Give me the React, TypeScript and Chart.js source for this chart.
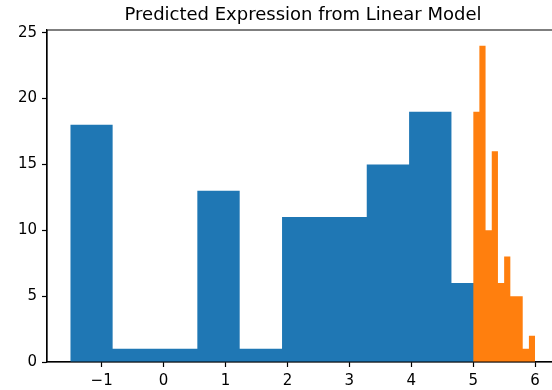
import React, { useEffect, useRef } from "react";
import { Chart, registerables } from "chart.js";

Chart.register(...registerables);

const titleText = "Predicted Expression from Linear Model";

// Blue histogram (10 bins)
const blueEdges = [-1.507, -0.823, -0.139, 0.545, 1.229, 1.913, 2.597, 3.281, 3.965, 4.649, 5.333];
const blueCounts = [18, 1, 1, 13, 1, 11, 11, 15, 19, 6];

// Orange histogram (10 bins)
const orangeEdges = [5.0, 5.1, 5.2, 5.3, 5.4, 5.5, 5.6, 5.7, 5.8, 5.9, 6.0];
const orangeCounts = [19, 24, 10, 16, 6, 8, 5, 5, 1, 2];

const xTicks = [-1, 0, 1, 2, 3, 4, 5, 6];
const yTicks = [0, 5, 10, 15, 20, 25];
const xRange = [-1.883, 6.386];
const yRange = [0, 25.2];

const BLUE = "#1f77b4";
const ORANGE = "#ff7f0e";
const FONT = "'DejaVu Sans', sans-serif";

function stepPoints(edges: number[], counts: number[]) {
  const pts = counts.map((c, i) => ({ x: edges[i], y: c }));
  pts.push({ x: edges[edges.length - 1], y: counts[counts.length - 1] });
  return pts;
}

const fmt = (v: number) => (v < 0 ? "\u2212" + Math.abs(v) : String(v));

const spinePlugin = {
  id: "spines",
  afterDatasetsDraw(chart: any) {
    const { ctx, chartArea } = chart;
    ctx.save();
    ctx.strokeStyle = "#000";
    ctx.lineWidth = 1.2;
    ctx.beginPath();
    ctx.moveTo(chartArea.left, chartArea.top);
    ctx.lineTo(chartArea.right, chartArea.top);
    ctx.moveTo(chartArea.left, chartArea.bottom);
    ctx.lineTo(chartArea.right, chartArea.bottom);
    ctx.moveTo(chartArea.left, chartArea.top);
    ctx.lineTo(chartArea.left, chartArea.bottom);
    ctx.stroke();
    ctx.restore();
  },
};

export default function App() {
  const ref = useRef<HTMLCanvasElement | null>(null);

  useEffect(() => {
    if (!ref.current) return;
    const chart = new Chart(ref.current, {
      type: "line",
      data: {
        datasets: [
          {
            label: "orange",
            data: stepPoints(orangeEdges, orangeCounts),
            stepped: true,
            fill: "origin",
            backgroundColor: ORANGE,
            borderColor: "rgba(0,0,0,0)",
            borderWidth: 0,
            pointRadius: 0,
            pointHitRadius: 0,
            order: 0,
          },
          {
            label: "blue",
            data: stepPoints(blueEdges, blueCounts),
            stepped: true,
            fill: "origin",
            backgroundColor: BLUE,
            borderColor: "rgba(0,0,0,0)",
            borderWidth: 0,
            pointRadius: 0,
            pointHitRadius: 0,
            order: 1,
          },
        ],
      },
      options: {
        responsive: false,
        maintainAspectRatio: false,
        animation: false,
        devicePixelRatio: 1,
        layout: { padding: { left: 0, right: 1, top: 0, bottom: 0 } },
        plugins: {
          legend: { display: false },
          tooltip: { enabled: false },
          title: {
            display: true,
            text: titleText,
            fullSize: false,
            color: "#000",
            font: { family: FONT, size: 18, weight: "normal", lineHeight: 1.2 },
            padding: { top: 5, bottom: 3.4 },
          },
        },
        scales: {
          x: {
            type: "linear",
            min: xRange[0],
            max: xRange[1],
            afterFit: (s: any) => {
              s.height = 28;
            },
            afterBuildTicks: (s: any) => {
              s.ticks = xTicks.map((v) => ({ value: v }));
            },
            grid: {
              drawOnChartArea: false,
              drawTicks: true,
              tickLength: 5,
              tickColor: "#000",
              tickWidth: 1.2,
            },
            border: { display: true, color: "#000", width: 1.2 },
            ticks: {
              color: "#000",
              padding: 5,
              maxRotation: 0,
              font: { family: FONT, size: 15 },
              callback: (v: any) => fmt(Number(v)),
            },
          },
          y: {
            type: "linear",
            min: yRange[0],
            max: yRange[1],
            afterFit: (s: any) => {
              s.width = 47;
            },
            afterBuildTicks: (s: any) => {
              s.ticks = yTicks.map((v) => ({ value: v }));
            },
            grid: {
              drawOnChartArea: false,
              drawTicks: true,
              tickLength: 5,
              tickColor: "#000",
              tickWidth: 1.2,
            },
            border: { display: true, color: "#000", width: 1.2 },
            ticks: {
              color: "#000",
              padding: 5,
              font: { family: FONT, size: 15 },
              callback: (v: any) => fmt(Number(v)),
            },
          },
        },
      },
      plugins: [spinePlugin],
    } as any);
    return () => chart.destroy();
  }, []);

  return (
    <div
      style={{
        position: "fixed",
        left: 0,
        top: 0,
        width: 552,
        height: 390,
        overflow: "hidden",
        background: "#fff",
      }}
    >
      <canvas ref={ref} width={560} height={390} style={{ width: 560, height: 390, display: "block" }} />
    </div>
  );
}
